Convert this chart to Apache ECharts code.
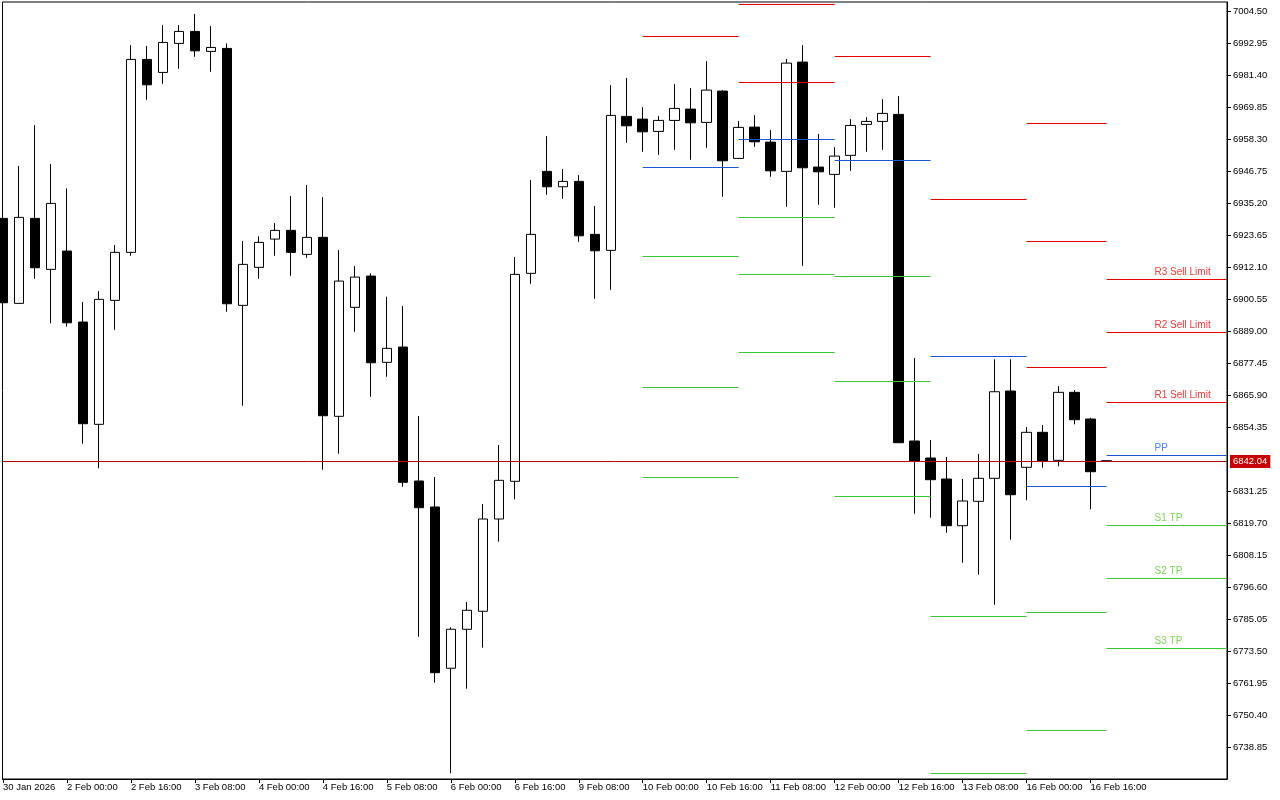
<!DOCTYPE html>
<html><head><meta charset="utf-8">
<script src="https://cdn.jsdelivr.net/npm/echarts@6/dist/echarts.min.js"></script>
<style>html,body{margin:0;padding:0;background:#fff}#c{width:1280px;height:800px}</style>
</head><body><div id="c"></div><script>
// ---- Data (H4 bars, index 0..69) ----
const opens = [6929.69,6899.05,6929.69,6911.31,6917.91,6892.31,6855.43,6900.13,6917.44,6987.01,
6982.33,6992.78,6997.11,6989.90,6990.98,6898.33,6912.03,6922.23,6925.37,6916.72,
6922.85,6858.32,6897.61,6908.89,6877.78,6883.30,6834.99,6825.62,6767.47,6781.53,
6788.02,6821.29,6834.88,6909.87,6946.64,6941.09,6943.03,6923.93,6918.16,6966.47,
6965.49,6961.06,6965.02,6969.10,6964.30,6975.59,6951.32,6962.61,6957.20,6946.64,
6986.04,6948.19,6945.56,6952.41,6963.58,6964.66,6967.19,6849.41,6843.28,6835.71,
6818.88,6827.67,6835.96,6867.44,6839.93,6852.55,6842.45,6866.97,6857.34,6842.30];
const closes = [6899.27,6930.06,6911.89,6935.10,6892.06,6855.65,6900.49,6917.44,6987.01,6977.86,
6993.14,6997.11,6990.11,6991.34,6898.91,6913.11,6921.04,6925.37,6917.44,6922.85,
6858.53,6907.09,6908.53,6877.64,6882.83,6834.52,6825.37,6765.88,6781.53,6788.38,
6821.29,6835.24,6909.51,6923.93,6941.09,6943.03,6923.42,6918.01,6966.83,6963.08,
6960.91,6965.02,6969.35,6964.16,6975.95,6950.46,6962.50,6957.31,6946.85,6985.68,
6947.94,6946.49,6952.15,6963.22,6964.66,6967.55,6848.80,6842.20,6835.46,6818.88,
6827.78,6835.96,6867.18,6830.05,6852.55,6842.20,6866.97,6857.09,6838.34,6842.04];
const highs = [6929.69,6948.55,6963.33,6949.27,6940.51,6899.52,6903.49,6920.07,6992.17,6991.81,
6999.38,6999.38,7003.35,6999.02,6992.78,6921.51,6923.21,6928.00,6937.73,6941.70,
6937.37,6918.27,6912.50,6909.87,6901.43,6898.08,6858.42,6836.43,6782.25,6791.37,
6826.70,6847.97,6915.74,6943.50,6959.36,6947.47,6945.30,6934.13,6977.75,6980.27,
6969.82,6966.57,6978.11,6976.67,6986.40,6975.95,6964.77,6966.93,6961.53,6987.12,
6992.17,6960.08,6955.40,6965.49,6966.21,6972.70,6973.78,6879.33,6849.77,6843.64,
6835.71,6844.72,6878.86,6878.86,6854.46,6855.18,6869.24,6867.80,6857.81,6842.30];
const lows = [6899.27,6899.05,6907.92,6891.84,6890.62,6848.44,6839.57,6889.53,6916.21,6972.45,
6978.22,6983.63,6987.95,6982.54,6896.02,6862.14,6907.92,6916.21,6909.00,6915.49,
6839.06,6844.83,6888.81,6865.38,6872.59,6832.94,6778.86,6762.28,6729.62,6760.12,
6774.90,6813.11,6828.39,6906.12,6938.20,6936.76,6921.26,6900.71,6903.95,6956.95,
6953.70,6952.62,6954.42,6950.82,6955.15,6937.48,6951.32,6955.51,6944.69,6933.88,
6912.61,6934.60,6933.52,6946.85,6953.70,6954.42,6848.80,6823.20,6821.76,6816.35,
6805.54,6801.21,6790.40,6813.83,6828.03,6839.79,6840.29,6855.43,6824.79,6841.90];

// x-axis tick labels (bar index -> label)
const xTickIdx = [0,4,8,12,16,20,24,28,32,36,40,44,48,52,56,60,64,68];
const xTickLabels = ['30 Jan 2026','2 Feb 00:00','2 Feb 16:00','3 Feb 08:00','4 Feb 00:00','4 Feb 16:00',
'5 Feb 08:00','6 Feb 00:00','6 Feb 16:00','9 Feb 08:00','10 Feb 00:00','10 Feb 16:00','11 Feb 08:00',
'12 Feb 00:00','12 Feb 16:00','13 Feb 08:00','16 Feb 00:00','16 Feb 16:00'];

// y-axis tick labels
const priceTicks = [7004.50,6992.95,6981.40,6969.85,6958.30,6946.75,6935.20,6923.65,6912.10,6900.55,
6889.00,6877.45,6865.90,6854.35,6831.25,6819.70,6808.15,6796.60,6785.05,6773.50,6761.95,6750.40,6738.85];

const lastPrice = 6842.04;

// Daily pivot segments (start/end bar index; null end = to the right edge)
const segStart = [40,46,52,58,64,69];
const segEnd   = [46,52,58,64,69,null];
const r3 = [null,null,null,null,6963.94,6907.81];
const r2 = [null,7006.84,null,null,6921.51,6888.60];
const r1 = [6995.31,6978.72,6988.10,6936.54,6875.98,6863.36];
const pp = [6948.08,6958.17,6950.60,6879.95,6833.08,6844.26];
const s1 = [6916.00,6930.06,6908.79,6786.22,6787.66,6819.02];
const s2 = [6868.77,6909.51,6870.93,6729.62,6745.12,6799.91];
const s3 = [6836.32,6881.39,6829.48,null,null,6774.68];
const levelNames = ['R3 Sell Limit','R2 Sell Limit','R1 Sell Limit','PP','S1 TP','S2 TP','S3 TP'];
const labelBarIdx = 72;

// ---- Build ----
const X_MIN = -0.03125, X_MAX = 76.53125;
const Y_MIN = 6727.54, Y_MAX = 7007.72;
const RED = '#E60000', BLUE = '#1E54D6', GREEN = '#38C830';
const levelArrs = [r3,r2,r1,pp,s1,s2,s3];
const lineColors = [RED,RED,RED,BLUE,GREEN,GREEN,GREEN];
const textColors = ['#F00000','#F00000','#F00000','#1E64F0','#5CCC2C','#5CCC2C','#5CCC2C'];

const candles = opens.map((o,i)=>[i,o,closes[i],lows[i],highs[i]]);

const mlData = [];
levelArrs.forEach((arr,k)=>{
  arr.forEach((v,j)=>{
    if (v == null) return;
    const x1 = segEnd[j] == null ? X_MAX : segEnd[j];
    mlData.push([{coord:[segStart[j], v], lineStyle:{color:lineColors[k], width:1, type:'solid'}},
                 {coord:[x1, v]}]);
  });
});
mlData.push({yAxis:lastPrice, lineStyle:{color:'#B80000', width:1, type:'solid'},
  label:{show:true, position:'end', distance:3, formatter: lastPrice.toFixed(2),
    color:'#fff', backgroundColor:'#C80000', padding:[2,3,1,3],
    fontFamily:'Liberation Sans, Arial, sans-serif', fontSize:9.5}});

const last = segStart.length - 1;
const labelData = levelArrs.map((arr,k)=>({
  value:[labelBarIdx, arr[last]], name: levelNames[k],
  label:{color:textColors[k]}
})).filter(d=>d.value[1]!=null);

const FONT = 'Liberation Sans, Arial, sans-serif';
const chart = echarts.init(document.getElementById('c'), null, {renderer:'canvas'});
chart.setOption({
  animation:false,
  backgroundColor:'#fff',
  grid:{left:2, right:53, top:2, bottom:21, show:true, borderColor:'#000', borderWidth:1, backgroundColor:'#fff'},
  xAxis:{type:'value', min:X_MIN, max:X_MAX,
    axisLine:{show:true, onZero:false, lineStyle:{color:'#000', width:1}},
    splitLine:{show:false},
    axisTick:{show:true, customValues:xTickIdx, length:4, lineStyle:{color:'#000'}},
    axisLabel:{show:true, customValues:xTickIdx, align:'left', margin:3, color:'#000',
      fontFamily:FONT, fontSize:9.5,
      formatter:(v)=>{const k=xTickIdx.indexOf(Math.round(v)); return k>=0?xTickLabels[k]:'';}}
  },
  yAxis:{type:'value', position:'right', min:Y_MIN, max:Y_MAX, scale:true,
    axisLine:{show:true, onZero:false, lineStyle:{color:'#000', width:1}},
    splitLine:{show:false},
    axisTick:{show:true, customValues:priceTicks, length:4, lineStyle:{color:'#000'}},
    axisLabel:{show:true, customValues:priceTicks, margin:6, color:'#000',
      fontFamily:FONT, fontSize:9.5, formatter:(v)=>v.toFixed(2)}
  },
  series:[
    {type:'candlestick', data:candles, encode:{x:0, y:[1,2,3,4]}, barWidth:10, clip:true,
     itemStyle:{color:'#fff', color0:'#000', borderColor:'#000', borderColor0:'#000', borderWidth:1},
     markLine:{silent:true, symbol:['none','none'], label:{show:false}, animation:false, data:mlData}
    },
    {type:'scatter', data:labelData, symbolSize:0, silent:true,
     label:{show:true, position:[0,-2], align:'left', verticalAlign:'bottom',
       formatter:(p)=>p.name, fontFamily:FONT, fontSize:10}
    }
  ]
});
</script></body></html>
